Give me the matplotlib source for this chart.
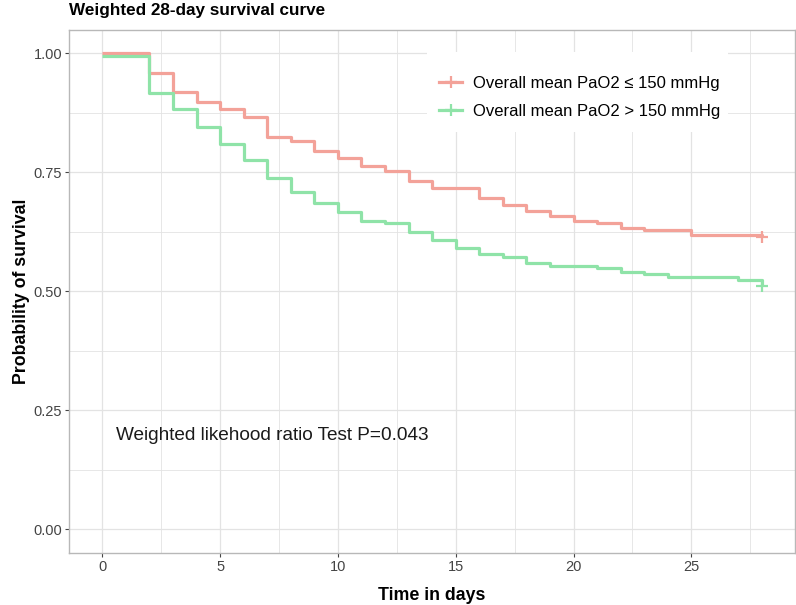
import numpy as np
import matplotlib
matplotlib.use("Agg")
import matplotlib.pyplot as plt
from matplotlib.lines import Line2D
from matplotlib.patches import Rectangle

plt.rcParams["font.family"] = ["Liberation Sans", "DejaVu Sans"]

# Weighted Kaplan-Meier step data
low_times = [0, 2, 3, 4, 5, 6, 7, 8, 9, 10, 11, 12, 13, 14, 16, 17, 18, 19, 20,
             21, 22, 23, 25, 28]
low_surv = [1.0, 0.959, 0.918, 0.898, 0.882, 0.866, 0.825, 0.815, 0.794, 0.780,
            0.764, 0.753, 0.731, 0.716, 0.695, 0.681, 0.669, 0.659, 0.648, 0.644,
            0.633, 0.629, 0.618, 0.615]

high_times = [0, 2, 3, 4, 5, 6, 7, 8, 9, 10, 11, 12, 13, 14, 15, 16, 17, 18, 19,
              21, 22, 23, 24, 27, 28]
high_surv = [0.995, 0.917, 0.882, 0.846, 0.810, 0.775, 0.739, 0.708, 0.685, 0.667,
             0.648, 0.643, 0.625, 0.608, 0.590, 0.578, 0.572, 0.560, 0.554, 0.548,
             0.541, 0.536, 0.530, 0.524, 0.512]

labels = ["Overall mean PaO2 \u2264 150 mmHg", "Overall mean PaO2 > 150 mmHg"]
colors = ["#F3A299", "#8FE3A8"]

x_ticks = [0, 5, 10, 15, 20, 25]
y_ticks = [0.0, 0.25, 0.5, 0.75, 1.0]

GRID = "#E3E3E3"
BORDER = "#B8B8B8"

fig = plt.figure(figsize=(7.96, 6.05), dpi=100)
ax = fig.add_axes([0.0871, 0.0860, 0.9116, 0.8652])

for t, s, c in [(low_times, low_surv, colors[0]), (high_times, high_surv, colors[1])]:
    ax.step(t, s, where="post", color=c, lw=2.3, solid_capstyle="butt", zorder=3)
    ax.plot(t[-1], s[-1], marker="+", ms=8, mew=1.6, color=c, zorder=4)

ax.set_xlim(-1.4, 29.4)
ax.set_ylim(-0.05, 1.05)
ax.set_xticks(x_ticks)
ax.set_yticks(y_ticks)
ax.set_xticks(np.arange(2.5, 29, 5), minor=True)
ax.set_yticks(np.arange(0.125, 1.0, 0.25), minor=True)
ax.set_yticklabels([f"{v:.2f}" for v in y_ticks])
ax.grid(True, which="major", color=GRID, lw=0.9, zorder=0)
ax.grid(True, which="minor", color=GRID, lw=0.6, zorder=0)
ax.set_axisbelow(True)
for sp in ax.spines.values():
    sp.set_color(BORDER)
    sp.set_linewidth(1.0)
ax.tick_params(which="major", length=3.2, width=0.8, color="#444444",
               labelsize=10.5, labelcolor="#444444", pad=2)
ax.tick_params(which="minor", length=0)

ax.set_xlabel("Time in days", fontsize=12.8, fontweight="bold", labelpad=9)
ax.set_ylabel("Probability of survival", fontsize=12.8, fontweight="bold", labelpad=2.5)

fig.text(0.087, 1 - 15 / 605, "Weighted 28-day survival curve", fontsize=12.3,
         fontweight="bold", va="baseline", ha="left")

ax.text(7.2, 0.196, "Weighted likehood ratio Test P=0.043", fontsize=13.7,
        ha="center", va="center", color="#1a1a1a")

# legend background box (hides the grid like ggplot's legend)
ax.add_patch(Rectangle((0.4929, 0.8042), 0.4148, 0.1528, transform=ax.transAxes,
                       facecolor="white", edgecolor="none", zorder=2))
handles = [Line2D([0], [0], color=c, lw=2.3, marker="+", ms=9, mew=1.6)
           for c in colors]
leg = ax.legend(handles, labels, loc="upper left", bbox_to_anchor=(0.5094, 0.912),
                borderaxespad=0, borderpad=0, frameon=False, fontsize=12,
                handlelength=1.4, handletextpad=0.65, labelspacing=0.78)
leg.set_zorder(5)

fig.savefig("out.png", dpi=100, facecolor="white")
